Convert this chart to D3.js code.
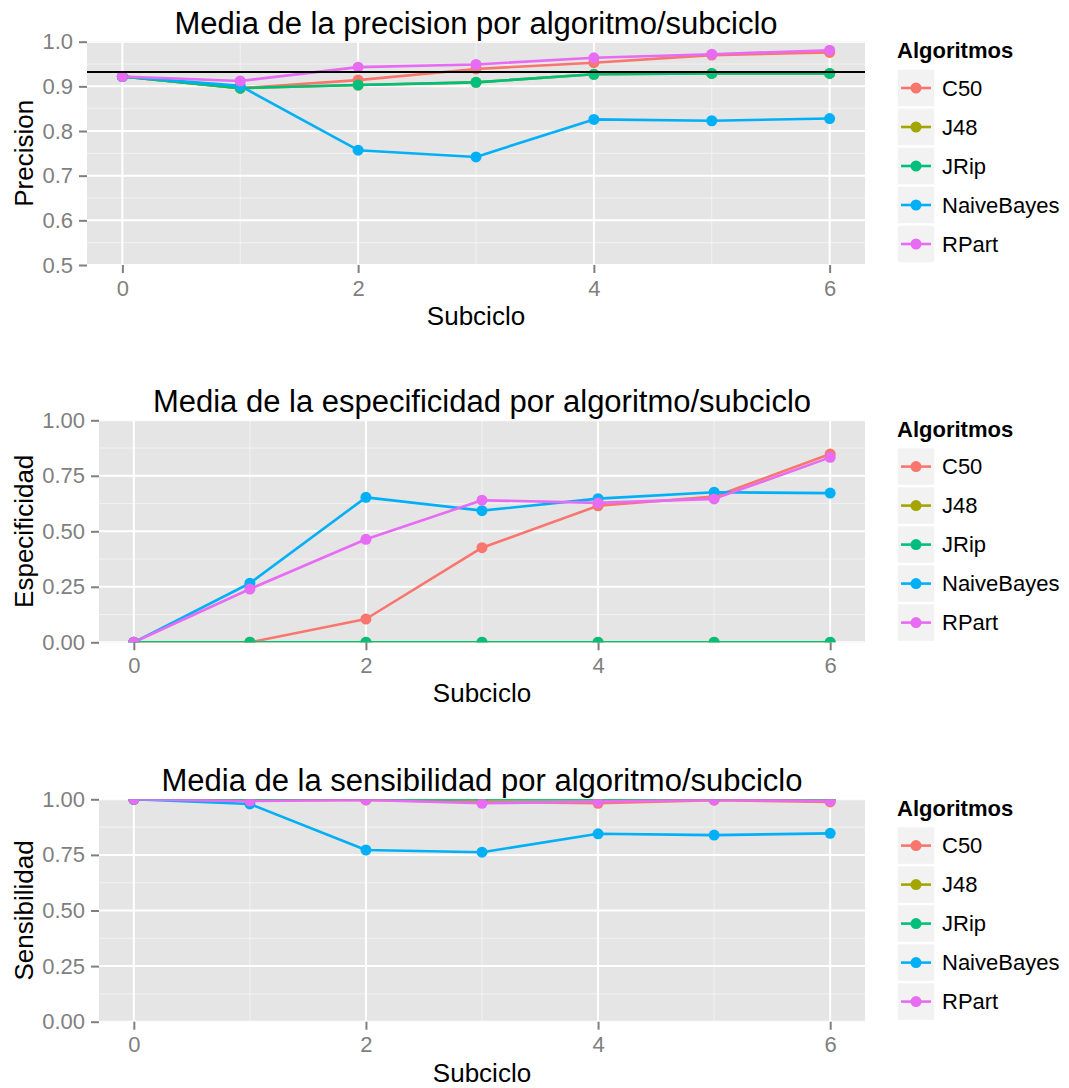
<!DOCTYPE html>
<html>
<head>
<meta charset="utf-8">
<script src="https://cdn.jsdelivr.net/npm/d3@7"></script>
<style>
  html, body { margin: 0; padding: 0; background: #ffffff; }
  svg { display: block; font-family: "Liberation Sans", Arial, Helvetica, sans-serif; }
</style>
</head>
<body>
<svg id="chart" width="1069" height="1088"></svg>
<script>
// ---------------- DATA ----------------
const subciclos = [0, 1, 2, 3, 4, 5, 6];
const algoritmos = ["C50", "J48", "JRip", "NaiveBayes", "RPart"];
const colores = ["#F8766D", "#A3A500", "#00BF7D", "#00B0F6", "#E76BF3"];
const xTicks = [0, 2, 4, 6];

// Precision
const precisionC50        = [0.922, 0.896, 0.914, 0.939, 0.953, 0.970, 0.976];
const precisionJ48        = [0.922, 0.896, 0.903, 0.909, 0.927, 0.929, 0.929];
const precisionJRip       = [0.922, 0.896, 0.903, 0.909, 0.927, 0.929, 0.929];
const precisionNaiveBayes = [0.922, 0.901, 0.757, 0.742, 0.826, 0.823, 0.828];
const precisionRPart      = [0.922, 0.912, 0.943, 0.949, 0.964, 0.972, 0.981];
const precisionReferencia = 0.932;
const precisionTicks = [0.5, 0.6, 0.7, 0.8, 0.9, 1.0];

// Especificidad
const especificidadC50        = [0, 0, 0.105, 0.426, 0.615, 0.656, 0.848];
const especificidadJ48        = [0, 0, 0, 0, 0, 0, 0];
const especificidadJRip       = [0, 0, 0, 0, 0, 0, 0];
const especificidadNaiveBayes = [0, 0.266, 0.653, 0.593, 0.647, 0.676, 0.672];
const especificidadRPart      = [0, 0.240, 0.464, 0.640, 0.628, 0.646, 0.833];

// Sensibilidad
const sensibilidadC50        = [1, 0.995, 0.997, 0.988, 0.982, 0.996, 0.988];
const sensibilidadJ48        = [1, 1, 1, 1, 1, 1, 1];
const sensibilidadJRip       = [1, 1, 1, 1, 1, 1, 1];
const sensibilidadNaiveBayes = [1, 0.979, 0.772, 0.762, 0.845, 0.839, 0.847];
const sensibilidadRPart      = [1, 0.992, 0.997, 0.982, 0.990, 0.997, 0.993];
const unitTicks = [0, 0.25, 0.5, 0.75, 1.0];

// ---------------- LAYOUT ----------------
const panels = [
  { title: "Media de la precision por algoritmo/subciclo", ylab: "Precision",
    series: [precisionC50, precisionJ48, precisionJRip, precisionNaiveBayes, precisionRPart],
    yDomain: [0.5, 1.0], yTicks: precisionTicks, fmt: ".1f", hline: precisionReferencia,
    box: { l: 87, r: 865, t: 41.7, b: 265 } },
  { title: "Media de la especificidad por algoritmo/subciclo", ylab: "Especificidad",
    series: [especificidadC50, especificidadJ48, especificidadJRip, especificidadNaiveBayes, especificidadRPart],
    yDomain: [0, 1], yTicks: unitTicks, fmt: ".2f", hline: null,
    box: { l: 99, r: 865, t: 420.3, b: 642.3 } },
  { title: "Media de la sensibilidad por algoritmo/subciclo", ylab: "Sensibilidad",
    series: [sensibilidadC50, sensibilidadJ48, sensibilidadJRip, sensibilidadNaiveBayes, sensibilidadRPart],
    yDomain: [0, 1], yTicks: unitTicks, fmt: ".2f", hline: null,
    box: { l: 99, r: 865, t: 799.3, b: 1021.7 } }
];

const svg = d3.select("#chart");
const TICK_FS = 22, AXT_FS = 26, TITLE_FS = 31, LEG_FS = 22;
const GREY = "#7F7F7F";
const LW = 2.6, PR = 5.5;

panels.forEach((p, pi) => {
  const b = p.box;
  const x = d3.scaleLinear().domain([-0.3, 6.3]).range([b.l, b.r]);
  const y = d3.scaleLinear().domain(p.yDomain).range([b.b, b.t]);
  const g = svg.append("g");

  const clipId = "clip" + pi;
  g.append("clipPath").attr("id", clipId)
    .append("rect").attr("x", b.l).attr("y", b.t).attr("width", b.r - b.l).attr("height", b.b - b.t);

  // panel background
  g.append("rect").attr("x", b.l).attr("y", b.t).attr("width", b.r - b.l).attr("height", b.b - b.t)
    .attr("fill", "#E5E5E5");

  // minor grid
  const yMinor = d3.range(p.yTicks.length - 1).map(i => (p.yTicks[i] + p.yTicks[i + 1]) / 2);
  const xMinor = [1, 3, 5];
  const grid = g.append("g").attr("clip-path", `url(#${clipId})`);
  grid.selectAll(".ymin").data(yMinor).join("line")
    .attr("x1", b.l).attr("x2", b.r).attr("y1", d => y(d)).attr("y2", d => y(d))
    .attr("stroke", "#F2F2F2").attr("stroke-width", 1);
  grid.selectAll(".xmin").data(xMinor).join("line")
    .attr("y1", b.t).attr("y2", b.b).attr("x1", d => x(d)).attr("x2", d => x(d))
    .attr("stroke", "#F2F2F2").attr("stroke-width", 1);
  // major grid
  grid.selectAll(".ymaj").data(p.yTicks).join("line")
    .attr("x1", b.l).attr("x2", b.r).attr("y1", d => y(d)).attr("y2", d => y(d))
    .attr("stroke", "#FFFFFF").attr("stroke-width", 2);
  grid.selectAll(".xmaj").data(xTicks).join("line")
    .attr("y1", b.t).attr("y2", b.b).attr("x1", d => x(d)).attr("x2", d => x(d))
    .attr("stroke", "#FFFFFF").attr("stroke-width", 2);

  // data
  const marks = g.append("g").attr("clip-path", `url(#${clipId})`);
  const line = d3.line().x((d, i) => x(subciclos[i])).y(d => y(d));
  p.series.forEach((s, si) => {
    marks.append("path").datum(s).attr("d", line)
      .attr("fill", "none").attr("stroke", colores[si]).attr("stroke-width", LW)
      .attr("stroke-linejoin", "round");
  });
  p.series.forEach((s, si) => {
    marks.selectAll(null).data(s).join("circle")
      .attr("cx", (d, i) => x(subciclos[i])).attr("cy", d => y(d)).attr("r", PR)
      .attr("fill", colores[si]);
  });
  if (p.hline !== null) {
    marks.append("line").attr("x1", b.l).attr("x2", b.r)
      .attr("y1", y(p.hline)).attr("y2", y(p.hline))
      .attr("stroke", "#000").attr("stroke-width", 2);
  }

  // axes
  const yAxis = g.append("g").attr("transform", `translate(${b.l},0)`)
    .call(d3.axisLeft(y).tickValues(p.yTicks).tickFormat(d3.format(p.fmt)).tickSize(8).tickPadding(6));
  const xAxis = g.append("g").attr("transform", `translate(0,${b.b})`)
    .call(d3.axisBottom(x).tickValues(xTicks).tickFormat(d3.format("d")).tickSize(8).tickPadding(7));
  [yAxis, xAxis].forEach(a => {
    a.select(".domain").remove();
    a.selectAll(".tick line").attr("stroke", GREY).attr("stroke-width", 2);
    a.selectAll(".tick text").attr("fill", GREY).attr("font-size", TICK_FS)
      .attr("font-family", "Liberation Sans, Arial, sans-serif");
  });

  // axis titles
  g.append("text").attr("x", (b.l + b.r) / 2).attr("y", b.b + 60)
    .attr("text-anchor", "middle").attr("font-size", AXT_FS).attr("fill", "#000").text("Subciclo");
  g.append("text").attr("transform", `translate(33,${(b.t + b.b) / 2}) rotate(-90)`)
    .attr("text-anchor", "middle").attr("font-size", AXT_FS).attr("fill", "#000").text(p.ylab);

  // title
  g.append("text").attr("x", (b.l + b.r) / 2).attr("y", b.t - 8)
    .attr("text-anchor", "middle").attr("font-size", TITLE_FS).attr("fill", "#000").text(p.title);

  // legend
  const lg = g.append("g").attr("transform", `translate(897,${b.t + 27.3})`);
  lg.append("text").attr("x", 0).attr("y", -11).attr("font-size", LEG_FS)
    .attr("font-weight", "bold").attr("fill", "#000").text("Algoritmos");
  const items = lg.selectAll(".item").data(algoritmos).join("g")
    .attr("transform", (d, i) => `translate(0,${i * 39})`);
  items.append("rect").attr("x", 0).attr("y", 0).attr("width", 38).attr("height", 38)
    .attr("fill", "#F2F2F2").attr("stroke", "#FFFFFF").attr("stroke-width", 1.5);
  items.append("line").attr("x1", 4).attr("x2", 34).attr("y1", 19).attr("y2", 19)
    .attr("stroke", (d, i) => colores[i]).attr("stroke-width", LW);
  items.append("circle").attr("cx", 19).attr("cy", 19).attr("r", PR)
    .attr("fill", (d, i) => colores[i]);
  items.append("text").attr("x", 45).attr("y", 19).attr("dy", "0.35em")
    .attr("font-size", LEG_FS).attr("fill", "#000").text(d => d);
});
</script>
</body>
</html>
